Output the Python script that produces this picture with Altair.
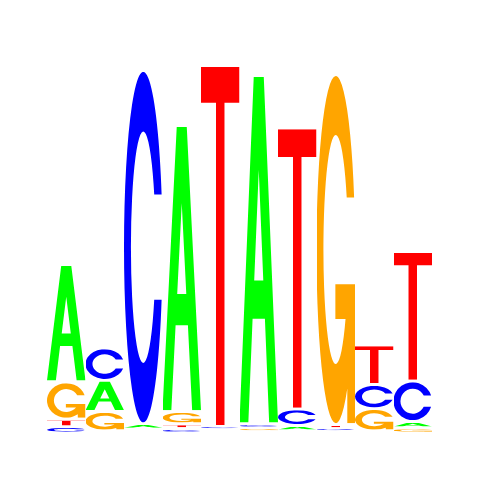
import base64
import altair as alt
import pandas as pd

# ---- data: letter heights (bits) per position ----
positions = [1, 2, 3, 4, 5, 6, 7, 8, 9, 10]
letters = ["A", "C", "G", "T"]
A_vals = [0.619, 0.165, 0.028, 1.506, 0.0105, 1.834, 0.0295, 0.011, 0.011, 0.034]
C_vals = [0.033, 0.170, 1.859, 0.023, 0.0142, 0.0226, 0.086, 0.0137, 0.127, 0.213]
G_vals = [0.196, 0.102, 0.0105, 0.065, 0.0105, 0.0168, 0.011, 1.841, 0.117, 0.027]
T_vals = [0.040, 0.011, 0.0100, 0.025, 1.898, 0.0095, 1.479, 0.020, 0.208, 0.682]
colors = {"A": "#00FF00", "C": "#0000FF", "G": "#FFA500", "T": "#FF0000"}

# ---- glyph outlines (unit box 100x100, stretched to each letter's box) ----
glyph_paths = {
    "A": "M0,100 L37,0 L63,0 L100,100 L77,100 L66,70 L34,70 L23,100 Z "
         "M50,27 L61.8,59 L38.2,59 Z",
    "C": "M97.7,35 A50,50 0 1,0 97.7,65 L78.5,65 A32,33 0 1,1 78.5,35 Z",
    "G": "M97.7,35 A50,50 0 1,0 80,90 L80,100 L100,100 L100,60 L49,60 "
         "L49,70 L75.4,70 A32,33 0 1,1 78.5,35 Z",
    "T": "M0,0 H100 V10 H61 V100 H39 V10 H0 Z",
}


def glyph_uri(letter):
    svg = (
        '<svg xmlns="http://www.w3.org/2000/svg" width="100" height="100" '
        'viewBox="0 0 100 100" preserveAspectRatio="none">'
        f'<path d="{glyph_paths[letter]}" fill="{colors[letter]}" '
        'fill-rule="evenodd"/></svg>'
    )
    return "data:image/svg+xml;base64," + base64.b64encode(svg.encode()).decode()


values = {"A": A_vals, "C": C_vals, "G": G_vals, "T": T_vals}
rows = []
for L in letters:
    for p, h in zip(positions, values[L]):
        rows.append({"pos": p, "letter": L, "h": h, "url": glyph_uri(L)})
df = pd.DataFrame(rows)

chart = (
    alt.Chart(df)
    .transform_stack(
        stack="h",
        groupby=["pos"],
        as_=["y0", "y1"],
        sort=[alt.SortField("h", order="ascending")],
    )
    .transform_filter("datum.h >= 0.012")
    .transform_calculate(
        pad="min(0.0068, 0.3 * datum.h)",
        left="datum.pos - 0.5",
        right="datum.pos + 0.5",
    )
    .transform_calculate(top="datum.y1 - datum.pad", bot="datum.y0 + datum.pad")
    .mark_image(aspect=False)
    .encode(
        x=alt.X("left:Q", scale=alt.Scale(domain=[0.5, 10.5], nice=False, zero=False), axis=None),
        x2="right:Q",
        y=alt.Y("top:Q", scale=alt.Scale(domain=[0, 2], nice=False, zero=True), axis=None),
        y2="bot:Q",
        url="url:N",
    )
    .properties(
        width=385,
        height=380,
        padding={"left": 39, "top": 45, "right": 0, "bottom": 0},
    )
    .configure_view(stroke=None)
)

chart.save("out.html", embed_options={"renderer": "svg", "actions": False})
